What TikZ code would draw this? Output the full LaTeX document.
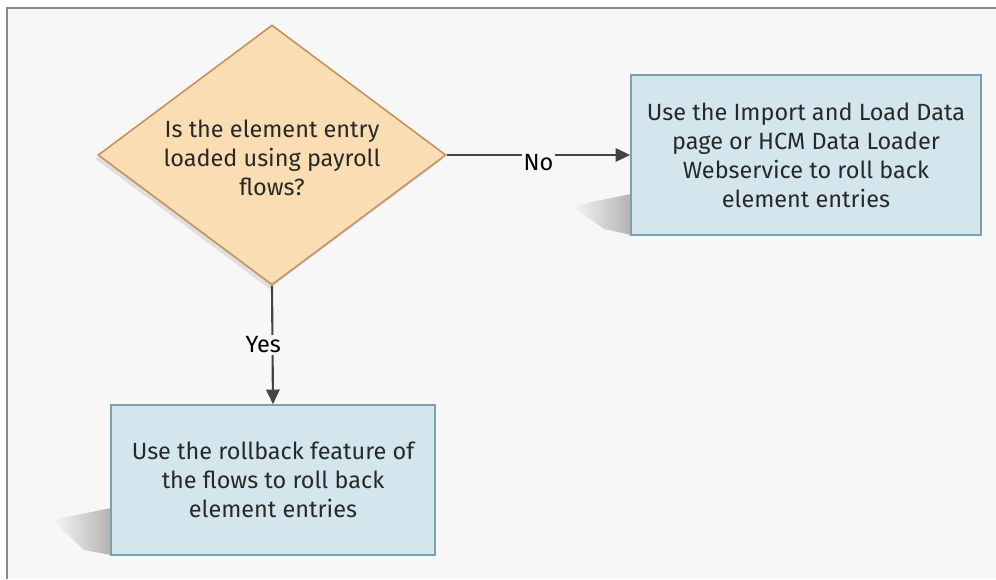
\documentclass[tikz,border=0pt]{standalone}
\usepackage{fontspec}
\setmainfont{Fira Sans}
\usepackage{tikz}
\usetikzlibrary{arrows.meta,shapes.geometric,shadows}
\usepackage{xcolor}
\definecolor{pagebg}{RGB}{247,247,247}
\definecolor{framegrey}{RGB}{140,135,130}
\definecolor{peach}{RGB}{250,221,178}
\definecolor{peachline}{RGB}{196,146,96}
\definecolor{paleblue}{RGB}{212,230,237}
\definecolor{paleblueline}{RGB}{122,162,174}
\definecolor{inkgrey}{RGB}{40,40,40}
\definecolor{arrowgrey}{RGB}{68,68,68}

\begin{document}
\begin{tikzpicture}[x=0.75pt, y=-0.75pt,
    font=\fontsize{17.6}{21.75}\selectfont, text=inkgrey,
    decision/.style={diamond, draw=peachline, fill=peach, line width=1.2pt,
      minimum width=261pt, minimum height=195pt, inner sep=0pt,
      drop shadow={shadow xshift=-2pt, shadow yshift=-3pt, opacity=0.2}},
    actionbox/.style={rectangle, draw=paleblueline, fill=paleblue,
      line width=1.2pt, align=center, inner sep=0pt},
    flow/.style={draw=arrowgrey, line width=1.6pt,
      -{Triangle[length=11pt, width=10pt]}},
    flowlabel/.style={fill=pagebg, inner sep=1pt, text=black}]
  \useasboundingbox (0,0) rectangle (996,579);

  % Page and frame
  \fill[white] (0,0) rectangle (996,579);
  \fill[pagebg] (8,9) rectangle (996,579);
  \draw[framegrey, line width=1.5pt] (7,579) -- (7,8) -- (996,8);

  % Box shadows
  \shade[left color=pagebg, right color=black!30]
    (572,206) -- (631,194) -- (631,235) -- (604,229) -- cycle;
  \shade[left color=pagebg, right color=black!30]
    (52,520) -- (111,508) -- (111,555) -- (84,550) -- cycle;

  % Decision
  \node[decision] (q) at (272,155) {};
  \node[align=center] (qtext) at (272,158)
    {Is the element entry\\loaded using payroll\\flows?};

  % Outcomes
  \node[actionbox, minimum width=262.5pt, minimum height=120pt]
    (nobox) at (806,155)
    {Use the Import and Load Data\\page or HCM Data Loader\\Webservice to roll back\\element entries};
  \node[actionbox, minimum width=243pt, minimum height=112.5pt]
    (yesbox) at (273,480)
    {Use the rollback feature of\\the flows to roll back\\element entries};

  % Connectors
  \draw[flow] (q.east) -- (nobox.west)
    node[flowlabel, midway, yshift=-6pt] (nolabel) {No};
  \draw[flow] (q.south) -- (yesbox.north)
    node[flowlabel, midway, xshift=-7pt] (yeslabel) {Yes};
\end{tikzpicture}
\end{document}
